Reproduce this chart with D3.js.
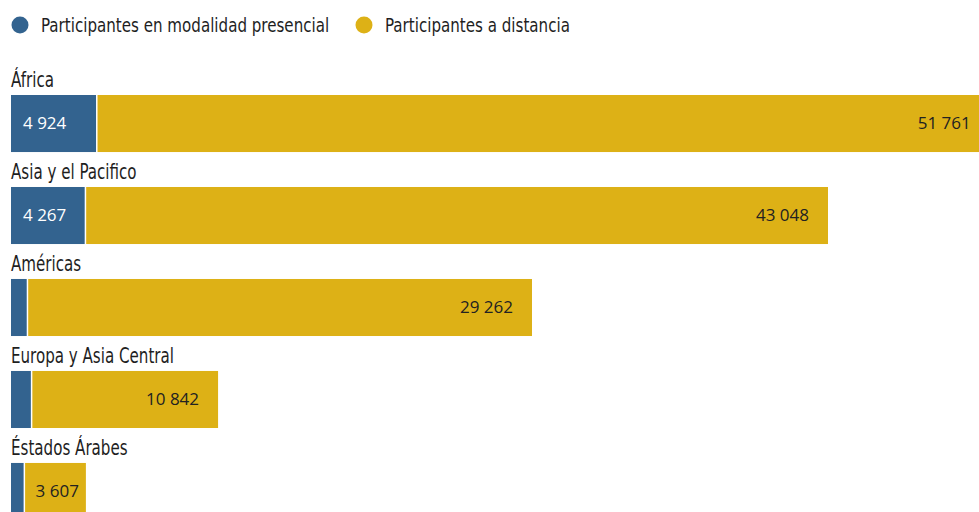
<!DOCTYPE html>
<html>
<head>
<meta charset="utf-8">
<script src="https://cdn.jsdelivr.net/npm/d3@7"></script>
<style>
  body { margin: 0; background: #fff; }
  svg { display: block; }
</style>
</head>
<body>
<div id="chart"></div>
<script>
// data
const regions = ["África", "Asia y el Pacifico", "Américas", "Europa y Asia Central", "Éstados Árabes"];
const presencial = [4924, 4267, 910, 1150, 730];
const distancia = [51761, 43048, 29262, 10842, 3607];
const showPresLabel = [true, true, false, false, false];
const legendLabels = ["Participantes en modalidad presencial", "Participantes a distancia"];

const width = 979, height = 512;
const colors = ["#33638f", "#ddb116"];
const labelFont = "'DejaVu Sans Condensed', 'DejaVu Sans', sans-serif";
const valueFont = "'Open Sans', 'Noto Sans', sans-serif";
const fmt = v => d3.format(",")(v).replace(/,/g, " ");

const svg = d3.select("#chart").append("svg")
    .attr("width", width)
    .attr("height", height);

// scales
const x = d3.scaleLinear()
    .domain([0, 47315])
    .range([11, 828]);
const y = d3.scaleBand()
    .domain(regions)
    .range([95, 520])
    .paddingInner(0.38)
    .paddingOuter(0);

const rows = regions.map((r, i) => ({ region: r, pres: presencial[i], dist: distancia[i], showPres: showPresLabel[i] }));

// squeeze condensed label text to the reference width
function narrow(sel, ratio) {
    sel.each(function() {
        const t = d3.select(this);
        const x0 = +t.attr("x");
        t.attr("transform", `translate(${x0},0) scale(${ratio},1) translate(${-x0},0)`);
    });
}

// legend
const legend = svg.append("g");
const legendX = [20, 364];
legendLabels.forEach((t, i) => {
    legend.append("circle")
        .attr("cx", legendX[i])
        .attr("cy", 25)
        .attr("r", 8.5)
        .attr("fill", colors[i]);
    legend.append("text")
        .attr("x", legendX[i] + 21)
        .attr("y", 32)
        .attr("font-family", labelFont)
        .attr("font-size", 20)
        .attr("fill", "#1f1f1f")
        .text(t)
        .call(narrow, 0.84);
});

const g = svg.append("g");
const row = g.selectAll(".row")
    .data(rows)
    .join("g")
    .attr("class", "row");

// region names above bars
row.append("text")
    .attr("x", 11)
    .attr("y", d => y(d.region) - 8)
    .attr("font-family", labelFont)
    .attr("font-size", 21)
    .attr("fill", "#1f1f1f")
    .text(d => d.region)
    .call(narrow, 0.8);

// presencial segment
row.append("rect")
    .attr("x", x(0))
    .attr("y", d => y(d.region))
    .attr("width", d => x(d.pres) - x(0))
    .attr("height", y.bandwidth())
    .attr("fill", colors[0]);

// distancia segment, small white gap
row.append("rect")
    .attr("x", d => x(d.pres) + 1.5)
    .attr("y", d => y(d.region))
    .attr("width", d => x(d.pres + d.dist) - x(d.pres) - 1.5)
    .attr("height", y.bandwidth())
    .attr("fill", colors[1]);

// value labels
row.filter(d => d.showPres).append("text")
    .attr("x", x(0) + 12)
    .attr("y", d => y(d.region) + y.bandwidth() / 2)
    .attr("dy", "0.35em")
    .attr("font-family", valueFont)
    .attr("font-size", 17)
    .attr("fill", "#fff")
    .text(d => fmt(d.pres));

row.append("text")
    .attr("y", d => y(d.region) + y.bandwidth() / 2)
    .attr("dy", "0.35em")
    .attr("text-anchor", "end")
    .attr("font-family", valueFont)
    .attr("font-size", 17)
    .attr("fill", "#222")
    .text(d => fmt(d.dist))
    .attr("x", function(d) {
        const w = this.getComputedTextLength();
        return Math.max(x(d.pres + d.dist) - 19, x(d.pres) + 12 + w);
    });
</script>
</body>
</html>
